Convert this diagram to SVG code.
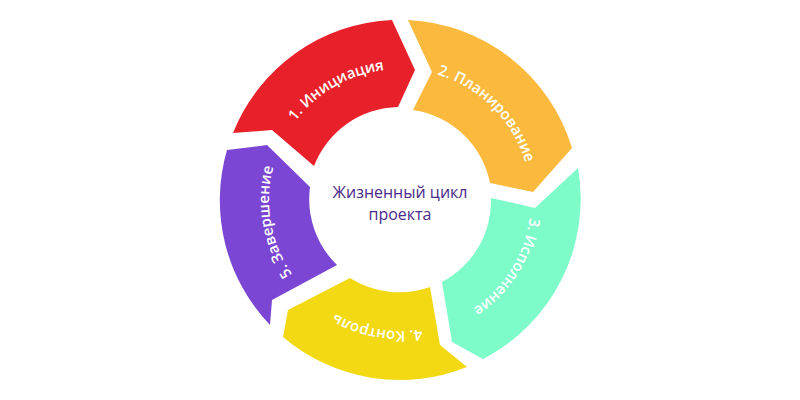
<svg xmlns="http://www.w3.org/2000/svg" xmlns:xlink="http://www.w3.org/1999/xlink" width="800" height="400" viewBox="0 0 800 400">
<style>
.lbl{font-family:"Open Sans","Liberation Sans",sans-serif;font-weight:600;font-size:15px;fill:#ffffff}
.ctr{font-family:"Open Sans","Liberation Sans",sans-serif;font-size:16px;fill:#4b2a88;text-anchor:middle}
</style>
<defs>
<path id="arc" d="M271,177.3 A131,131 0 0 1 529,177.3"/>
</defs>
<rect width="800" height="400" fill="#ffffff"/>
<g id="step1">
<path d="M233,133 A180,180 0 0 1 392,20 L415,70 L398,107 A92,92 0 0 0 314,166 L272,130 Z" fill="#e8202a"/>
<g transform="rotate(-30 400 200)"><text class="lbl"><textPath xlink:href="#arc" href="#arc" startOffset="50%" text-anchor="middle">1. Инициация</textPath></text></g>
</g>
<g id="step2">
<path d="M408,20 A180,180 0 0 1 572,148 L533,192 L490,183 A92,92 0 0 0 413,110 L432,72 Z" fill="#fbba3d"/>
<g transform="rotate(45 400 200)"><text class="lbl"><textPath xlink:href="#arc" href="#arc" startOffset="50%" text-anchor="middle">2. Планирование</textPath></text></g>
</g>
<g id="step3">
<path d="M578,168 A180,180 0 0 1 483,359 L452,342 L442,282 A92,92 0 0 0 491,198 L535,208 Z" fill="#7dfcc9"/>
<g transform="rotate(122 400 200)"><text class="lbl"><textPath xlink:href="#arc" href="#arc" startOffset="50%" text-anchor="middle">3. Исполнение</textPath></text></g>
</g>
<g id="step4">
<path d="M467,367 A180,180 0 0 1 283,337 L288,310 L350,278 A92,92 0 0 0 430,287 L440,345 Z" fill="#f2d913"/>
<g transform="rotate(190 400 200)"><text class="lbl"><textPath xlink:href="#arc" href="#arc" startOffset="50%" text-anchor="middle">4. Контроль</textPath></text></g>
</g>
<g id="step5">
<path d="M270,325 A180,180 0 0 1 227,150 L267,145 L310,187 A92,92 0 0 0 337,265 L272,300 Z" fill="#7b46d3"/>
<g transform="rotate(260 400 200)"><text class="lbl"><textPath xlink:href="#arc" href="#arc" startOffset="50%" text-anchor="middle">5. Завершение</textPath></text></g>
</g>
<g id="center">
<text class="ctr" x="400" y="198">Жизненный цикл</text>
<text class="ctr" x="400" y="220">проекта</text>
</g>
<g id="connectors"></g>
</svg>
